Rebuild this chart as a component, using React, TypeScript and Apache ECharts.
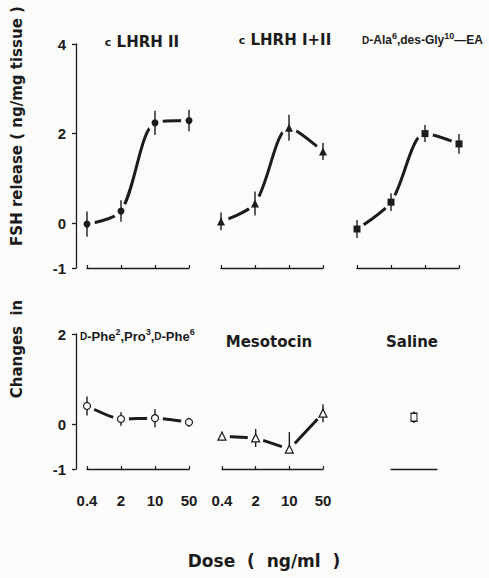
import React, { useEffect, useRef } from "react";
import * as echarts from "echarts";

// ---- data ----
const doses = ["0.4", "2", "10", "50"];
const topYTicks = [-1, 0, 2, 4];
const bottomYTicks = [-1, 0, 2];

const lhrh2 = [-0.02, 0.27, 2.24, 2.29];
const lhrh2Err = [0.28, 0.24, 0.27, 0.24];

const lhrh12 = [0.04, 0.44, 2.13, 1.6];
const lhrh12Err = [0.2, 0.27, 0.29, 0.19];

const alaEA = [-0.13, 0.47, 2.0, 1.77];
const alaEAErr = [0.2, 0.2, 0.19, 0.22];

const phe = [0.4, 0.11, 0.13, 0.04];
const pheErr = [0.21, 0.15, 0.2, 0.1];

const mesotocin = [-0.27, -0.31, -0.56, 0.24];
const mesotocinErrUp = [0.1, 0.2, 0.38, 0.2];
const mesotocinErrDown = [0.1, 0.2, 0, 0.2];

const salineLabel = [""];
const saline = [0.15];
const salineErr = [0.13];

const FONT = '"DejaVu Sans", sans-serif';
const NFONT = '"Liberation Sans", Arial, sans-serif';
const INK = "#1c1c1c";
const BG = "#fbfbf9";

const grids = [
  { left: 87, top: 44, width: 102, height: 224 },
  { left: 221, top: 44, width: 102, height: 224 },
  { left: 357, top: 44, width: 102, height: 224 },
  { left: 87, top: 334, width: 102, height: 135 },
  { left: 222, top: 334, width: 101, height: 135 },
  { left: 391, top: 334, width: 46, height: 135 },
];

function panelSeries(
  gi: number,
  values: number[],
  errUp: number[],
  errDown: number[],
  symbol: string,
  size: number | number[],
  filled: boolean,
  smooth: number | boolean,
  withLine = true
) {
  const out: any[] = [];
  if (withLine) {
    out.push({
      type: "line",
      xAxisIndex: gi,
      yAxisIndex: gi,
      data: values,
      smooth,
      showSymbol: false,
      lineStyle: { color: INK, width: 3 },
      z: 2,
      silent: true,
    });
    out.push({
      type: "scatter",
      xAxisIndex: gi,
      yAxisIndex: gi,
      data: values,
      symbol: "circle",
      symbolSize: 16,
      itemStyle: { color: BG, opacity: 1 },
      z: 3,
      silent: true,
    });
  }
  out.push({
    type: "custom",
    xAxisIndex: gi,
    yAxisIndex: gi,
    data: values.map((v, i) => [i, v - errDown[i], v + errUp[i]]),
    renderItem: (params: any, api: any) => {
      const x = api.value(0);
      const lo = api.coord([x, api.value(1)]);
      const hi = api.coord([x, api.value(2)]);
      return {
        type: "line",
        shape: { x1: lo[0], y1: lo[1], x2: hi[0], y2: hi[1] },
        style: { stroke: INK, lineWidth: 1.4 },
      };
    },
    z: 4,
    silent: true,
  });
  out.push({
    type: "scatter",
    xAxisIndex: gi,
    yAxisIndex: gi,
    data: values,
    symbol,
    symbolSize: size,
    itemStyle: {
      color: filled ? INK : BG,
      borderColor: INK,
      borderWidth: filled ? 0 : 1.2,
      opacity: 1,
    },
    z: 5,
    silent: true,
  });
  return out;
}

function App() {
  const ref = useRef<HTMLDivElement>(null);
  useEffect(() => {
    document.body.style.margin = "0";
    const chart = echarts.init(ref.current!, null, { renderer: "svg" });

    const yAxes = grids.map((g, i) => {
      const top = i < 3;
      const ticks = top ? topYTicks : bottomYTicks;
      const visible = i === 0 || i === 3;
      return {
        type: "value",
        gridIndex: i,
        min: -1,
        max: top ? 4 : 2,
        show: visible,
        offset: 11,
        splitLine: { show: false },
        axisLine: { show: true, onZero: false, lineStyle: { color: INK, width: 1.3 } },
        axisTick: { show: true, length: 4, customValues: ticks, lineStyle: { color: INK, width: 1.3 } },
        axisLabel: {
          customValues: ticks,
          fontFamily: NFONT,
          fontWeight: "bold",
          fontSize: 15,
          color: INK,
          margin: 10,
        },
      };
    });

    const xAxes = grids.map((g, i) => {
      if (i === 5) {
        return {
          type: "category",
          gridIndex: i,
          data: salineLabel,
          boundaryGap: true,
          axisLine: { show: true, onZero: false, lineStyle: { color: INK, width: 1.3 } },
          axisTick: { show: false },
          axisLabel: { show: false },
          splitLine: { show: false },
        };
      }
      return {
        type: "category",
        gridIndex: i,
        data: doses,
        boundaryGap: false,
        axisLine: { show: true, onZero: false, lineStyle: { color: INK, width: 1.3 } },
        axisTick: { show: true, inside: true, length: 3, lineStyle: { color: INK, width: 1.2 } },
        axisLabel: {
          show: i === 3 || i === 4,
          fontFamily: NFONT,
          fontWeight: "bold",
          fontSize: 15,
          color: INK,
          margin: 24,
        },
        splitLine: { show: false },
      };
    });

    const series = [
      ...panelSeries(0, lhrh2, lhrh2Err, lhrh2Err, "circle", 7, true, 0.3),
      ...panelSeries(1, lhrh12, lhrh12Err, lhrh12Err, "triangle", 8, true, 0.3),
      ...panelSeries(2, alaEA, alaEAErr, alaEAErr, "rect", 7, true, 0.3),
      ...panelSeries(3, phe, pheErr, pheErr, "circle", 7, false, 0.2),
      ...panelSeries(4, mesotocin, mesotocinErrUp, mesotocinErrDown, "triangle", 8, false, false),
      ...panelSeries(5, saline, salineErr, salineErr, "rect", [6, 8], false, false, false),
    ];

    const rich = {
      m: { fontFamily: FONT, fontWeight: "bold", fontSize: 15, color: INK, lineHeight: 18 },
      sc: { fontFamily: FONT, fontWeight: "bold", fontSize: 11, color: INK, lineHeight: 18, verticalAlign: "middle" },
      scn: { fontFamily: NFONT, fontWeight: "bold", fontSize: 10, color: INK, lineHeight: 18, verticalAlign: "middle" },
      sup: { fontFamily: NFONT, fontWeight: "bold", fontSize: 9, color: INK, lineHeight: 10, verticalAlign: "top" },
      n: { fontFamily: NFONT, fontWeight: "bold", fontSize: 13, color: INK, lineHeight: 18 },
      n12: { fontFamily: NFONT, fontWeight: "bold", fontSize: 12, color: INK, lineHeight: 18 },
    };

    const titleText = (x: number, y: number, text: string, align = "center") => ({
      type: "text",
      x,
      y,
      silent: true,
      style: {
        text,
        rich,
        align,
        verticalAlign: "middle",
        fill: INK,
        font: `bold 15px ${FONT}`,
      },
    });

    const graphic = [
      titleText(142, 42, "{sc|c}{m| LHRH II}"),
      titleText(285, 40, "{sc|c}{m| LHRH I+II}"),
      titleText(362, 40, "{scn|D}{n12|-Ala}{sup|6}{n12|,des-Gly}{sup|10}{n12|—EA}", "left"),
      titleText(80, 336, "{scn|D}{n|-Phe}{sup|2}{n|,Pro}{sup|3}{n|,}{scn|D}{n|-Phe}{sup|6}", "left"),
      titleText(269, 342, "{m|Mesotocin}"),
      titleText(412, 342, "{m|Saline}"),
      {
        type: "text",
        x: 17,
        y: 349,
        rotation: Math.PI / 2,
        silent: true,
        style: {
          text: "Changes  in",
          align: "center",
          verticalAlign: "middle",
          fill: INK,
          font: `bold 15px ${FONT}`,
        },
      },
      {
        type: "text",
        x: 17,
        y: 126,
        rotation: Math.PI / 2,
        silent: true,
        style: {
          text: "FSH release ( ng/mg tissue )",
          align: "center",
          verticalAlign: "middle",
          fill: INK,
          font: `bold 15px ${FONT}`,
        },
      },
      {
        type: "text",
        x: 264,
        y: 561,
        silent: true,
        style: {
          text: "Dose  (  ng/ml  )",
          align: "center",
          verticalAlign: "middle",
          fill: INK,
          font: `bold 17px ${FONT}`,
        },
      },
    ];

    chart.setOption({
      animation: false,
      backgroundColor: BG,
      grid: grids,
      xAxis: xAxes,
      yAxis: yAxes,
      series,
      graphic,
    });
    return () => chart.dispose();
  }, []);
  return (
    <div
      ref={ref}
      style={{ position: "fixed", left: 0, top: 0, width: 489, height: 578 }}
    />
  );
}

export default App;
